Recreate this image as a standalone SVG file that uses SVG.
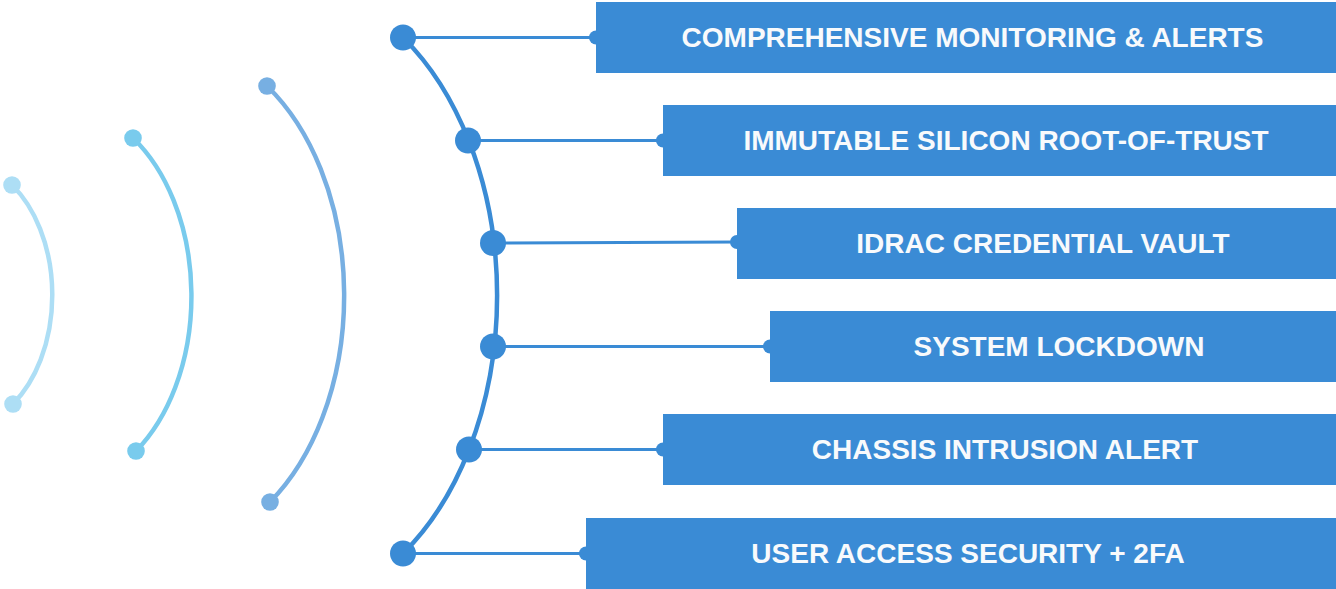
<svg xmlns="http://www.w3.org/2000/svg" width="1336" height="589" viewBox="0 0 1336 589">
<style>
.box{fill:#3A8BD5}
.lbl{font-family:"Liberation Sans",Arial,sans-serif;font-weight:bold;font-size:28px;fill:#F8FAFC;text-anchor:middle}
.link{stroke:#3A8BD5;stroke-width:3;fill:none}
.main{stroke:#3A8BD5;stroke-width:4.5;fill:none}
.hub{fill:#3A8BD5}
</style>
<rect width="1336" height="589" fill="#FFFFFF"/>
<g id="waves">
<path d="M12,185 A91.4,132.7 0 0 1 13,404" fill="none" stroke="#ADDEF5" stroke-width="4.5"/>
<circle cx="12" cy="185" r="8.8" fill="#ADDEF5"/>
<circle cx="13" cy="404" r="8.8" fill="#ADDEF5"/>
<path d="M133,138 A130.7,189.6 0 0 1 136,451" fill="none" stroke="#79CBED" stroke-width="4.5"/>
<circle cx="133" cy="138" r="8.8" fill="#79CBED"/>
<circle cx="136" cy="451" r="8.8" fill="#79CBED"/>
<path d="M267,86 A173.7,252 0 0 1 270,502" fill="none" stroke="#77AFE2" stroke-width="4.5"/>
<circle cx="267" cy="86" r="8.8" fill="#77AFE2"/>
<circle cx="270" cy="502" r="8.8" fill="#77AFE2"/>
</g>
<g id="connectors">
<path class="main" d="M403,37.5 A215,312 0 0 1 403,553.5"/>
<line class="link" x1="403" y1="37.5" x2="596" y2="37.5"/>
<line class="link" x1="468" y1="140.5" x2="663" y2="140.5"/>
<line class="link" x1="493" y1="243" x2="737" y2="242"/>
<line class="link" x1="493" y1="346.5" x2="770" y2="346.5"/>
<line class="link" x1="469" y1="449.5" x2="663" y2="449.5"/>
<line class="link" x1="403" y1="553.5" x2="586" y2="553.5"/>
<circle class="hub" cx="403" cy="37.5" r="13"/>
<circle class="hub" cx="468" cy="140.5" r="13"/>
<circle class="hub" cx="493" cy="243" r="13"/>
<circle class="hub" cx="493" cy="346.5" r="13"/>
<circle class="hub" cx="469" cy="449.5" r="13"/>
<circle class="hub" cx="403" cy="553.5" r="13"/>
<circle class="hub" cx="596" cy="37.5" r="7"/>
<circle class="hub" cx="663" cy="140.5" r="7"/>
<circle class="hub" cx="737" cy="242" r="7"/>
<circle class="hub" cx="770" cy="346.5" r="7"/>
<circle class="hub" cx="663" cy="449.5" r="7"/>
<circle class="hub" cx="586" cy="553.5" r="7"/>
</g>
<g id="node-monitoring">
<rect class="box" x="596" y="2" width="740" height="71"/>
<text class="lbl" x="972.5" y="47">COMPREHENSIVE MONITORING &amp; ALERTS</text>
</g>
<g id="node-rot">
<rect class="box" x="663" y="105" width="673" height="71"/>
<text class="lbl" x="1006" y="150">IMMUTABLE SILICON ROOT-OF-TRUST</text>
</g>
<g id="node-vault">
<rect class="box" x="737" y="208" width="599" height="71"/>
<text class="lbl" x="1043" y="253">IDRAC CREDENTIAL VAULT</text>
</g>
<g id="node-lockdown">
<rect class="box" x="770" y="311" width="566" height="71"/>
<text class="lbl" x="1059" y="356">SYSTEM LOCKDOWN</text>
</g>
<g id="node-intrusion">
<rect class="box" x="663" y="414" width="673" height="71"/>
<text class="lbl" x="1005" y="459">CHASSIS INTRUSION ALERT</text>
</g>
<g id="node-access">
<rect class="box" x="586" y="518" width="750" height="71"/>
<text class="lbl" x="968" y="563">USER ACCESS SECURITY + 2FA</text>
</g>
</svg>
